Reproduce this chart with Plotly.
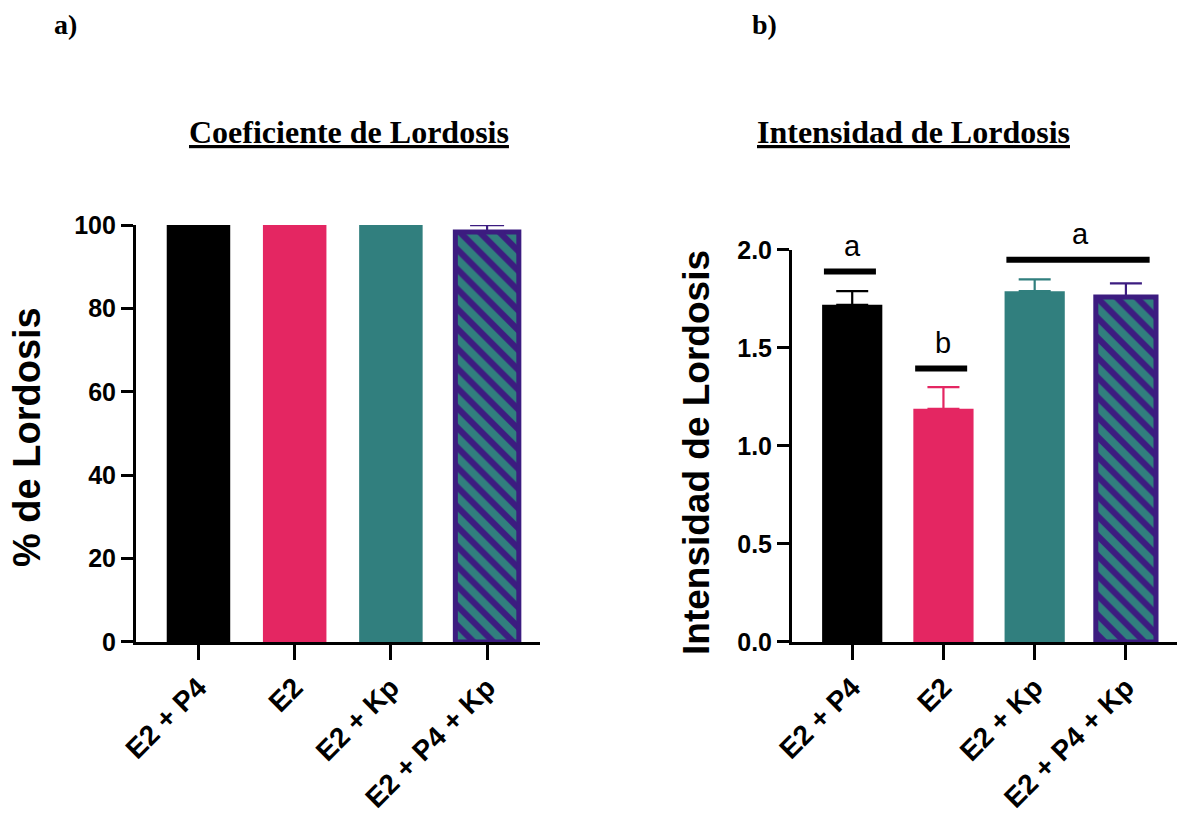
import plotly.graph_objects as go

# ---------------- data ----------------
groups = ["E2 + P4", "E2", "E2 + Kp", "E2 + P4 + Kp"]
coef_mean = [100, 100, 100, 98.3]
coef_err = [0, 0, 0, 1.7]
int_mean = [1.72, 1.19, 1.79, 1.76]
int_err = [0.07, 0.11, 0.06, 0.07]
# significance groups: (first idx, last idx, line level, letter)
sig_first = [0, 1, 2]
sig_last = [0, 1, 3]
sig_level = [1.89, 1.395, 1.95]
sig_letter = ["a", "b", "a"]

# ---------------- style ----------------
fill_colors = ["#000000", "#E42662", "#317F7E", "#317F7E"]
err_colors = ["#000000", "#E42662", "#317F7E", "#3C1C80"]
purple = "#3C1C80"
bar_w = 0.66

fig = go.Figure()

def add_bars(vals, errs, xa, ya, capw):
    for i, (v, e) in enumerate(zip(vals, errs)):
        hatched = i == 3
        marker = dict(color=fill_colors[i])
        if hatched:
            marker["line"] = dict(color=purple, width=5)
            marker["pattern"] = dict(shape="\\", fgcolor=purple, bgcolor=fill_colors[i],
                                     size=14, solidity=0.45, fillmode="replace")
        else:
            marker["line"] = dict(width=0)
        fig.add_trace(go.Bar(
            x=[i], y=[v], width=bar_w, marker=marker, xaxis=xa, yaxis=ya,
            showlegend=False,
            error_y=dict(type="data", array=[e], arrayminus=[0], symmetric=False,
                         color=err_colors[i], thickness=2.2, width=capw,
                         visible=e > 0),
        ))

add_bars(coef_mean, coef_err, "x", "y", 17)
add_bars(int_mean, int_err, "x2", "y2", 16)

axis_common = dict(showline=True, linewidth=3, linecolor="black", ticks="outside",
                   tickwidth=3, tickcolor="black", showgrid=False, zeroline=False,
                   automargin=False)
yfont = dict(family="Liberation Sans", size=25, color="black", weight="bold")
xfont = dict(family="Liberation Sans", size=28, color="black", weight="bold")

fig.update_layout(
    template="none",
    width=1177, height=818,
    margin=dict(l=0, r=0, t=0, b=0, pad=0),
    plot_bgcolor="white", paper_bgcolor="white",
    barmode="overlay",
    xaxis=dict(domain=[0.1155, 0.4588], anchor="y", range=[-0.65, 3.55],
               tickvals=list(range(len(groups))), ticktext=groups, tickangle=-45,
               ticklen=15, tickfont=xfont, **axis_common),
    yaxis=dict(domain=[0.2152, 0.7249], anchor="x", range=[0, 100],
               tickvals=[0, 20, 40, 60, 80, 100], ticklen=12, tickfont=yfont, **axis_common),
    xaxis2=dict(domain=[0.6729, 1.0], anchor="y2", range=[-0.66, 3.56],
                tickvals=list(range(len(groups))), ticktext=groups, tickangle=-45,
                ticklen=15, tickfont=xfont, **axis_common),
    yaxis2=dict(domain=[0.2152, 0.6944], anchor="x2", range=[0, 2.0],
                tickvals=[0, 0.5, 1.0, 1.5, 2.0], tickformat=".1f", ticklen=12,
                tickfont=yfont, **axis_common),
)

# significance lines and letters
for f, l, lev, let in zip(sig_first, sig_last, sig_level, sig_letter):
    fig.add_shape(type="line", xref="x2", yref="y2", x0=f - 0.31, x1=l + 0.26,
                  y0=lev, y1=lev, line=dict(color="black", width=6))
    fig.add_annotation(x=(f + l) / 2, y=lev, xref="x2", yref="y2", text=let,
                       showarrow=False, yanchor="bottom", yshift=8,
                       font=dict(family="Liberation Sans", size=29, color="black"))

serif = "Liberation Serif"
ann = [
    dict(x=65 / 1177, y=1 - 25 / 818, text="<b>a)</b>", size=28, fam=serif),
    dict(x=764 / 1177, y=1 - 25 / 818, text="<b>b)</b>", size=28, fam=serif),
    dict(x=349 / 1177, y=1 - 132 / 818, text="<b><u>Coeficiente de Lordosis</u></b>", size=32, fam=serif),
    dict(x=913 / 1177, y=1 - 132 / 818, text="<b><u>Intensidad de Lordosis</u></b>", size=32, fam=serif),
]
for a in ann:
    fig.add_annotation(x=a["x"], y=a["y"], xref="paper", yref="paper", text=a["text"],
                       showarrow=False, xanchor="center", yanchor="middle",
                       font=dict(family=a["fam"], size=a["size"], color="black"))

# y-axis titles
fig.add_annotation(x=27 / 1177, y=1 - 437 / 818, xref="paper", yref="paper",
                   text="<b>% de Lordosis</b>", textangle=-90, showarrow=False,
                   xanchor="center", yanchor="middle",
                   font=dict(family="Liberation Sans", size=38, color="black"))
fig.add_annotation(x=696 / 1177, y=1 - 453 / 818, xref="paper", yref="paper",
                   text="<b>Intensidad de Lordosis</b>", textangle=-90, showarrow=False,
                   xanchor="center", yanchor="middle",
                   font=dict(family="Liberation Sans", size=37, color="black"))

fig.write_html("out.html")
